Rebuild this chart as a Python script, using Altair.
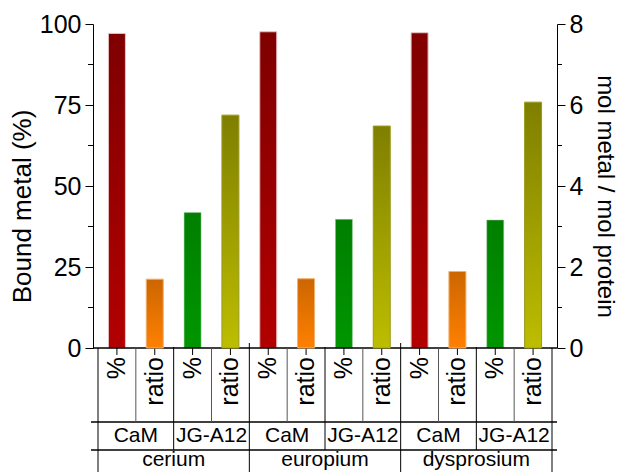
import altair as alt
import pandas as pd

# ---- data ----
elements = ["cerium", "europium", "dysprosium"]
proteins = ["CaM", "JG-A12"]
measures = ["%", "ratio"]
pct_cam = [97.1, 97.6, 97.3]
pct_jg = [41.8, 39.7, 39.5]
ratio_cam = [1.70, 1.71, 1.89]
ratio_jg = [5.75, 5.48, 6.07]
left_ticks = [0, 25, 50, 75, 100]
left_minor = [12.5, 37.5, 62.5, 87.5]
right_ticks = [0, 2, 4, 6, 8]
right_minor = [1, 3, 5, 7]

vals = {("CaM", "%"): pct_cam, ("CaM", "ratio"): ratio_cam,
        ("JG-A12", "%"): pct_jg, ("JG-A12", "ratio"): ratio_jg}
rows = []
i = 0
for ei, el in enumerate(elements):
    for p in proteins:
        for m in measures:
            rows.append(dict(pos=i + 0.5, element=el, protein=p, measure=m,
                             value=vals[(p, m)][ei]))
            i += 1
df = pd.DataFrame(rows)
N = len(df)

prot_df = df.groupby(["element", "protein"], sort=False)["pos"].mean().reset_index()
elem_df = df.groupby("element", sort=False)["pos"].mean().reset_index()

# boundaries between cells
inner_b = pd.DataFrame({"b": (df.loc[df.measure == "ratio", "pos"] - 0.5).tolist()})
prot_b = pd.DataFrame({"b": (df.loc[(df.protein == "JG-A12") & (df.measure == "%"), "pos"] - 0.5).tolist()})
first_pos = df.groupby("element", sort=False)["pos"].min() - 0.5
elem_b = pd.DataFrame({"b": first_pos.tolist()[1:]})
edge_b = pd.DataFrame({"b": [0, N]})

W, H = 464, 324
FONT = "Liberation Sans"
xs = alt.Scale(domain=[0, N], nice=False, zero=False)

def X(field):
    return alt.X(field, type="quantitative", scale=xs, axis=None)

def grad(top, bottom):
    return alt.Gradient(gradient="linear",
                        stops=[alt.GradientStop(color=top, offset=0),
                               alt.GradientStop(color=bottom, offset=1)],
                        x1=0, x2=0, y1=0, y2=1)

axis_common = dict(tickSize=8, labelFontSize=25, labelPadding=4,
                   titleFontWeight="normal",
                   titleBaseline="alphabetic", grid=False,
                   domainColor="black", tickColor="black",
                   labelColor="black", titleColor="black",
                   labelFont=FONT, titleFont=FONT)
ax_left = alt.Axis(values=left_ticks, title="Bound metal (%)", orient="left",
                   titleFontSize=26, titleX=-63, titleY=182, **axis_common)
ax_right = alt.Axis(values=right_ticks, title="mol metal / mol protein", orient="right",
                    titleFontSize=24, titleX=40, titleY=172, **axis_common)
sc_left = alt.Scale(domain=[0, 100], nice=False)
sc_right = alt.Scale(domain=[0, 8], nice=False)

y_left = alt.Y("value:Q", scale=sc_left, axis=ax_left)
y_right = alt.Y("value:Q", scale=sc_right, axis=ax_right)

base = alt.Chart(df)

bar_cam_pct = base.transform_filter("datum.protein == 'CaM' && datum.measure == '%'").mark_bar(
    size=17, color=grad("#7f0000", "#b30000"), stroke="#e6c4c4", strokeWidth=1
).encode(x=X("pos"), y=y_left)
bar_jg_pct = base.transform_filter("datum.protein == 'JG-A12' && datum.measure == '%'").mark_bar(
    size=17, color=grad("#007f00", "#009600"), stroke="#9ccc9c", strokeWidth=0.5
).encode(x=X("pos"), y=y_left)
bar_cam_ratio = base.transform_filter("datum.protein == 'CaM' && datum.measure == 'ratio'").mark_bar(
    size=17, color=grad("#cc6600", "#ff8000"), stroke="#f0b070", strokeWidth=1
).encode(x=X("pos"), y=y_right)
bar_jg_ratio = base.transform_filter("datum.protein == 'JG-A12' && datum.measure == 'ratio'").mark_bar(
    size=17, color=grad("#7f7f00", "#bdbd00"), stroke="#9a9a20", strokeWidth=1
).encode(x=X("pos"), y=y_right)

minor_left = alt.Chart(pd.DataFrame({"value": left_minor})).mark_rule(color="black").encode(
    x=alt.value(-5), x2=alt.value(0), y=y_left)
minor_right = alt.Chart(pd.DataFrame({"value": right_minor})).mark_rule(color="black").encode(
    x=alt.value(W), x2=alt.value(W + 5), y=y_right)

# ---- category table below the axis ----
x_axis_line = alt.Chart(edge_b).mark_rule(color="black").encode(
    x=alt.value(0), x2=alt.value(W), y=alt.value(H))
hline1 = alt.Chart(edge_b).mark_rule(color="black").encode(
    x=alt.value(-2), x2=alt.value(W), y=alt.value(H + 74))
hline2 = alt.Chart(edge_b).mark_rule(color="black").encode(
    x=alt.value(-2), x2=alt.value(W), y=alt.value(H + 102))
edges = alt.Chart(edge_b).mark_rule(color="black").encode(
    x=X("b"), y=alt.value(H), y2=alt.value(H + 140))
bar_ticks = base.mark_rule(color="black").encode(
    x=X("pos"), y=alt.value(H), y2=alt.value(H + 7))
inner_lines = alt.Chart(inner_b).mark_rule(color="#555555").encode(
    x=X("b"), y=alt.value(H), y2=alt.value(H + 74))
prot_lines = alt.Chart(prot_b).mark_rule(color="black").encode(
    x=X("b"), y=alt.value(H - 1), y2=alt.value(H + 102))
elem_lines = alt.Chart(elem_b).mark_rule(color="black").encode(
    x=X("b"), y=alt.value(H - 5), y2=alt.value(H + 140))

measure_text = base.mark_text(angle=270, align="right", baseline="middle",
                              fontSize=25, font=FONT, color="black").encode(
    x=X("pos"), y=alt.value(H + 9), text="measure:N")
prot_text = alt.Chart(prot_df).mark_text(align="center", baseline="alphabetic",
                                         fontSize=21, font=FONT, color="black").encode(
    x=X("pos"), y=alt.value(H + 94), text="protein:N")
elem_text = alt.Chart(elem_df).mark_text(align="center", baseline="alphabetic",
                                         fontSize=21, font=FONT, color="black").encode(
    x=X("pos"), y=alt.value(H + 118), text="element:N")

left_layer = alt.layer(bar_cam_pct, bar_jg_pct, minor_left, x_axis_line, hline1, hline2,
                       edges, bar_ticks, inner_lines, prot_lines, elem_lines,
                       measure_text, prot_text, elem_text)
right_layer = alt.layer(bar_cam_ratio, bar_jg_ratio, minor_right)

chart = alt.layer(left_layer, right_layer).resolve_scale(y="independent").properties(
    width=W, height=H,
    autosize=alt.AutoSizeParams(type="none"),
    padding={"left": 85, "top": 16, "right": 61, "bottom": 130},
).configure(font=FONT).configure_view(stroke=None)

chart.save("out.html", embed_options={"renderer": "svg", "actions": False})
